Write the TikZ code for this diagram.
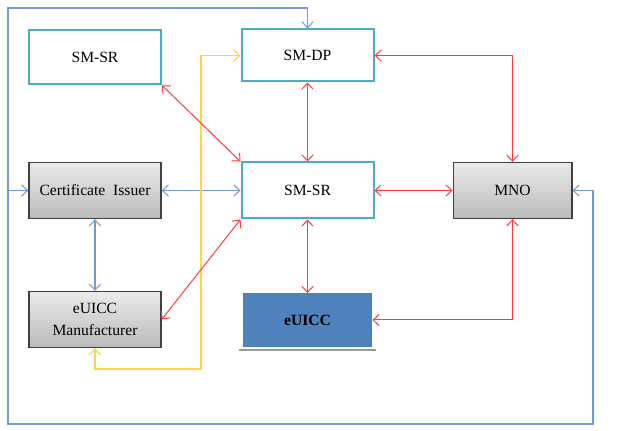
\documentclass[tikz,border=0pt]{standalone}
\usepackage{fontspec}
\setmainfont{Liberation Serif}
\usepackage{tikz}
\usetikzlibrary{arrows.meta, positioning}

\definecolor{boxcyan}{HTML}{4BACC6}
\definecolor{linkblue}{HTML}{6F9BD6}
\definecolor{linkred}{HTML}{FF3B3B}
\definecolor{linkyellow}{HTML}{FFD34E}
\definecolor{chipblue}{HTML}{4F81BD}

\begin{document}
\begin{tikzpicture}[x=0.75pt, y=-0.75pt, >={Straight Barb[length=4.5pt,width=8.5pt]},
  every node/.style={font=\fontsize{11.7}{16.5}\selectfont, align=center},
  cyanbox/.style={draw=boxcyan, line width=1.5pt, fill=white, minimum width=99pt, minimum height=41pt},
  graybox/.style={draw=black!75, line width=1pt, top color=black!8, bottom color=black!27, minimum width=99pt, minimum height=42pt},
  bluelink/.style={draw=linkblue, line width=0.8pt},
  redlink/.style={draw=linkred, line width=0.75pt},
  yellink/.style={draw=linkyellow, line width=0.9pt}]
  \useasboundingbox (0,0) rectangle (622,431);
  % boxes
  \node [cyanbox] (smsrtop) at (95,57) {SM-SR};
  \node [cyanbox, minimum height=39pt] (smdp) at (307.5,55.5) {SM-DP};
  \node [graybox] (issuer) at (95,190.5) {Certificate\ \ Issuer};
  \node [cyanbox, minimum height=42pt] (smsr) at (307.5,190.5) {SM-SR};
  \node [graybox, minimum width=89pt] (mno) at (512.5,190.5) {MNO};
  \node [graybox] (maker) at (95,319.5) {eUICC\\Manufacturer};
  \node [fill=chipblue, minimum width=97pt, minimum height=40pt, font=\fontsize{11.7}{16.5}\selectfont\bfseries] (euicc) at (307.5,320) {eUICC};
  \draw [black!40, line width=1.5pt] ([xshift=-3pt,yshift=-2.5pt] euicc.south west) -- ([xshift=3pt,yshift=-2.5pt] euicc.south east);
  % bends
  \coordinate (looptl) at (8,8);
  \coordinate (loopbr) at (593,424);
  \coordinate (yelbend) at (201,369);
  % blue links
  \draw [bluelink, <->] (mno.east) -| (loopbr) -| (looptl) -| (smdp.north);
  \draw [bluelink, ->] (issuer.west -| looptl) -- (issuer.west);
  \draw [bluelink, <->] (issuer.east) -- (smsr.west);
  \draw [bluelink, <->] (issuer.south) -- (maker.north);
  % yellow link
  \draw [yellink, <->] (maker.south) |- (yelbend) |- (smdp.west);
  % red links
  \draw [redlink, <->] (smsrtop.south east) -- (smsr.north west);
  \draw [redlink, <->] (smdp.south) -- (smsr.north);
  \draw [redlink, <->] (smdp.east) -| (mno.north);
  \draw [redlink, <->] (smsr.east) -- (mno.west);
  \draw [redlink, <->] (smsr.south) -- (euicc.north);
  \draw [redlink, <->] (maker.east) -- (smsr.south west);
  \draw [redlink, <->] (euicc.east) -| (mno.south);
\end{tikzpicture}
\end{document}
